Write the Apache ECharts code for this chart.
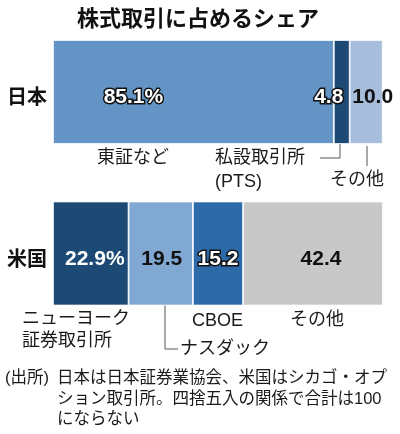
<!DOCTYPE html>
<html><head><meta charset="utf-8">
<script src="https://cdn.jsdelivr.net/npm/echarts@6/dist/echarts.min.js"></script>
<style>html,body{margin:0;padding:0;background:#fff}#c{width:400px;height:434px}</style>
</head><body><div id="c"></div>
<script>
// ---- data ----
const title = '株式取引に占めるシェア';
const categories = ['日本', '米国'];
const seg1 = [85.1, 22.9];   // 東証など / ニューヨーク証券取引所
const seg2 = [4.8, 19.5];    // 私設取引所(PTS) / ナスダック
const seg3 = [10.0, 15.2];   // その他 / CBOE
const seg4 = ['-', 42.4];    // - / その他
const noteHead = '(出所)';
const noteLines = ['日本は日本証券業協会、米国はシカゴ・オプ', 'ション取引所。四捨五入の関係で合計は100', 'にならない'];

// ---- styles ----
const colors = [
  ['#6494c6', '#1d4a74'],
  ['#1d4a74', '#80a8d2'],
  ['#a6bedc', '#2d6aaa'],
  ['#c8c8c8', '#c8c8c8']
];
const labelDx = [[-60, 4], [-13, 1], [6.5, 0], [0, 8]];
const outlined = [[true, false], [true, false], [false, true], [false, false]];
const whiteText = [[true, true], [true, false], [false, true], [false, false]];
const numFont = '"Liberation Sans", Arial, sans-serif';
const jpFont = '"Liberation Sans", "Noto Sans CJK JP", sans-serif';

function makeSeries(vals, si) {
  return {
    type: 'bar', stack: 'total', barWidth: 104,
    itemStyle: { borderColor: '#fff', borderWidth: 0.8 },
    data: vals.map((v, ci) => ({
      value: v,
      itemStyle: { color: colors[si][ci] },
      label: {
        show: v !== '-', position: 'inside',
        offset: [labelDx[si][ci], 5.5],
        formatter: (p) => (si === 0 ? p.value.toFixed(1) + '%' : p.value.toFixed(1)),
        fontFamily: numFont, fontWeight: 'bold', fontSize: 21,
        color: whiteText[si][ci] ? '#fff' : '#111',
        textBorderColor: outlined[si][ci] ? '#111' : 'transparent',
        textBorderWidth: outlined[si][ci] ? 3 : 0
      }
    }))
  };
}

function txt(text, x, y, opts) {
  return {
    type: 'text', x: x, y: y, silent: true,
    style: Object.assign({ text: text, fill: '#1a1a1a', font: '18px ' + jpFont, align: 'left', verticalAlign: 'middle' }, opts || {})
  };
}
function line(points) {
  return { type: 'polyline', silent: true, shape: { points: points }, style: { stroke: '#555', lineWidth: 1, fill: null } };
}

const chart = echarts.init(document.getElementById('c'), null, { renderer: 'canvas' });
chart.setOption({
  animation: false,
  backgroundColor: '#fff',
  grid: { left: 53, right: 17, top: 11.25, bottom: 99.75 },
  xAxis: { type: 'value', min: 0, max: 100, show: false },
  yAxis: {
    type: 'category', data: categories, inverse: true,
    axisLine: { show: false }, axisTick: { show: false },
    axisLabel: {
      margin: 6,
      formatter: (v) => '{a|' + v + '}',
      rich: { a: { fontSize: 20, fontWeight: 'bold', color: '#111', fontFamily: jpFont, padding: [13, 0, 0, 0] } }
    }
  },
  series: [makeSeries(seg1, 0), makeSeries(seg2, 1), makeSeries(seg3, 2), makeSeries(seg4, 3)],
  graphic: [
    txt(title, 198, 20, { font: 'bold 22px ' + jpFont, align: 'center', fill: '#111' }),
    // Japan annotations
    txt('東証など', 97, 158),
    txt('私設取引所', 215, 158),
    txt('(PTS)', 215, 182),
    line([[320, 158], [340, 158], [340, 144]]),
    txt('その他', 330, 180),
    line([[367, 146], [367, 166]]),
    // US annotations
    txt('ニューヨーク', 22, 319),
    txt('証券取引所', 22, 341),
    line([[165, 305], [165, 349], [178, 349]]),
    txt('ナスダック', 180, 349),
    txt('CBOE', 192, 321),
    txt('その他', 290, 320),
    // footnote
    txt(noteHead, 5, 378, { font: '16.5px ' + jpFont }),
    txt(noteLines[0], 57, 378, { font: '16.5px ' + jpFont }),
    txt(noteLines[1], 57, 399, { font: '16.5px ' + jpFont }),
    txt(noteLines[2], 57, 419, { font: '16.5px ' + jpFont })
  ]
});
</script>
</body></html>
